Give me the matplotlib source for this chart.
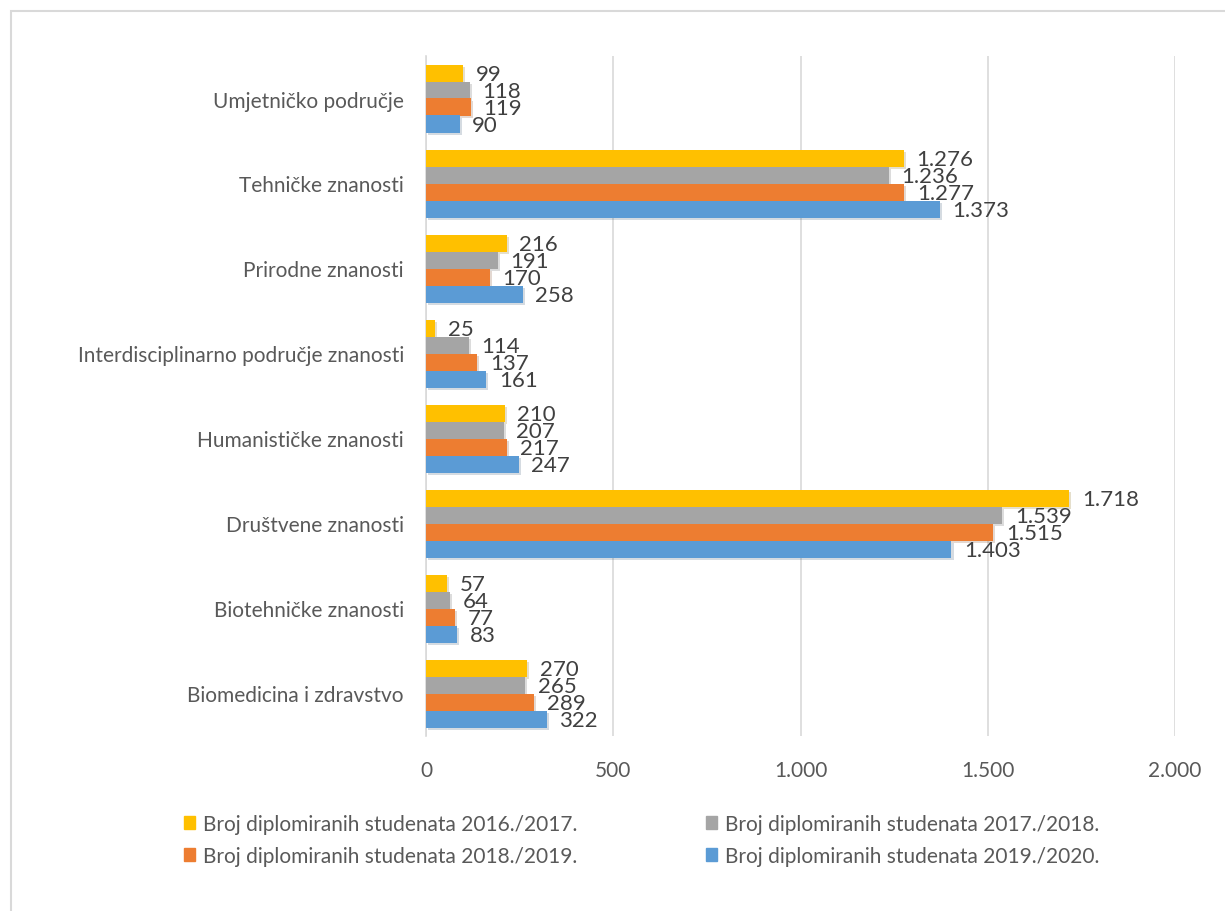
import matplotlib.pyplot as plt
import matplotlib.patheffects as pe
from matplotlib.patches import Patch, Rectangle
from matplotlib.ticker import FuncFormatter

kategorije = ['Biomedicina i zdravstvo', 'Biotehničke znanosti', 'Društvene znanosti',
              'Humanističke znanosti', 'Interdisciplinarno područje znanosti',
              'Prirodne znanosti', 'Tehničke znanosti', 'Umjetničko područje']
god_2016 = [270, 57, 1718, 210, 25, 216, 1276, 99]
god_2017 = [265, 64, 1539, 207, 114, 191, 1236, 118]
god_2018 = [289, 77, 1515, 217, 137, 170, 1277, 119]
god_2019 = [322, 83, 1403, 247, 161, 258, 1373, 90]
nazivi = ['Broj diplomiranih studenata 2016./2017.', 'Broj diplomiranih studenata 2017./2018.',
          'Broj diplomiranih studenata 2018./2019.', 'Broj diplomiranih studenata 2019./2020.']
boje = ['#FFC000', '#A5A5A5', '#ED7D31', '#5B9BD5']


def fmt(v, pos=None):
    return f"{int(v):,}".replace(",", ".")


plt.rcParams['font.family'] = ['Lato', 'DejaVu Sans']

fig = plt.figure(figsize=(12.25, 9.12), dpi=100)
fig.patches.append(Rectangle((11 / 1225, -0.1), 1.2, 1 - 12 / 912 + 0.1, transform=fig.transFigure,
                             fill=False, edgecolor='#D9D9D9', linewidth=1.5))
ax = fig.add_axes([426 / 1225, 1 - 737 / 912, 749 / 1225, (737 - 57) / 912])

h = 0.2
pomaci = [0.3, 0.1, -0.1, -0.3]
serije = [god_2016, god_2017, god_2018, god_2019]
y = list(range(len(kategorije)))
sjena = [pe.SimplePatchShadow(offset=(1.5, -2), alpha=0.2, rho=0.5), pe.Normal()]
for vals, pom, boja in zip(serije, pomaci, boje):
    yy = [i + pom for i in y]
    bars = ax.barh(yy, vals, height=h, color=boja, zorder=3)
    for b in bars:
        b.set_path_effects(sjena)
    for v, yi in zip(vals, yy):
        ax.annotate(fmt(v), (v, yi), xytext=(9, -1), textcoords='offset points',
                    ha='left', va='center', fontsize=16, color='#404040', zorder=4)

ax.set_xlim(0, 2000)
ax.set_ylim(-0.5, 7.5)
ax.set_xticks([0, 500, 1000, 1500, 2000])
ax.xaxis.set_major_formatter(FuncFormatter(fmt))
ax.set_yticks(y)
ax.set_yticklabels(kategorije)
ax.grid(axis='x', color='#D9D9D9', linewidth=1.2, zorder=0)
for s in ['top', 'right', 'bottom']:
    ax.spines[s].set_visible(False)
ax.spines['left'].set_color('#D9D9D9')
ax.spines['left'].set_linewidth(1.2)
ax.tick_params(axis='both', length=0, labelsize=15, colors='#595959')
ax.tick_params(axis='x', pad=17)
ax.tick_params(axis='y', pad=16)

rucke = [Patch(color=c) for c in boje]
redoslijed = [0, 2, 1, 3]
fig.legend([rucke[i] for i in redoslijed], [nazivi[i] for i in redoslijed], ncol=2,
           loc='center', bbox_to_anchor=(0.524, 0.078), frameon=False, fontsize=15,
           labelcolor='#595959', handlelength=0.5, handleheight=0.6, handletextpad=0.4,
           columnspacing=6.2, labelspacing=0.6)

fig.savefig('out.png', dpi=100)
